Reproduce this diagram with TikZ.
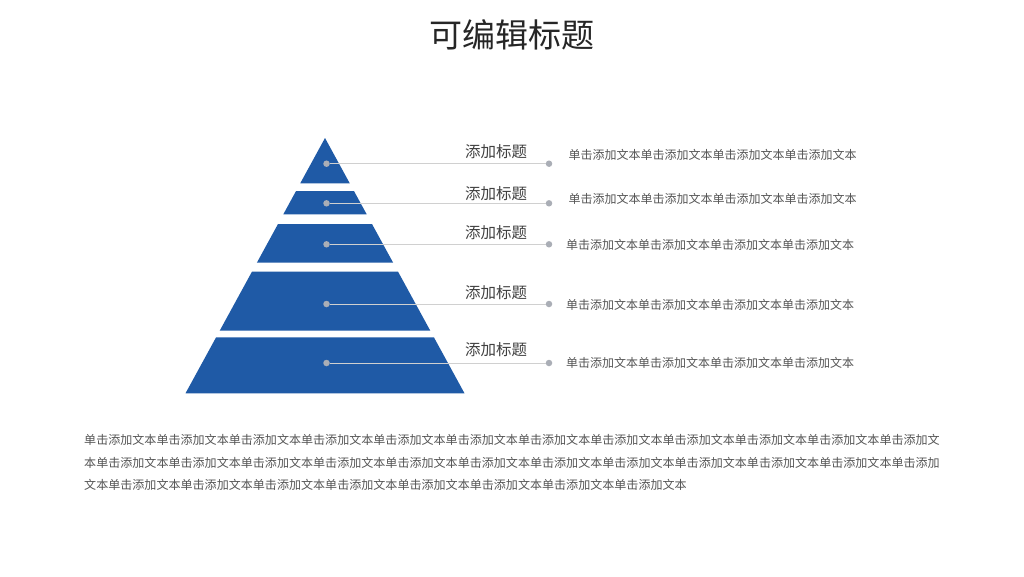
\documentclass[tikz,border=0pt]{standalone}
\usepackage{fontspec}
\setmainfont{Noto Sans CJK SC}
\usetikzlibrary{positioning}
\usepackage{xcolor}
\definecolor{pyrblue}{RGB}{31,90,166}
\definecolor{dotgray}{RGB}{170,174,182}
\definecolor{linegray}{RGB}{208,208,208}
\definecolor{textgray}{RGB}{85,85,85}
\definecolor{labelgray}{RGB}{64,64,64}
\definecolor{titlegray}{RGB}{38,38,38}
\tikzset{tierdot/.style={circle, fill=dotgray, minimum size=6.5pt, inner sep=0pt},tierlabel/.style={font=\fontsize{15.5}{18}\selectfont, text=labelgray, inner sep=0pt}}
\tikzset{tiertext/.style={font=\fontsize{12}{14}\selectfont, text=textgray, inner sep=0pt, anchor=west},bodytext/.style={font=\fontsize{12.05}{22.5}\selectfont, text=textgray, inner sep=0pt, anchor=north west, align=left}}

\begin{document}
\begin{tikzpicture}[
        x=1pt, y=-1pt,
        titletext/.style={font=\fontsize{33}{38}\selectfont, text=titlegray, inner sep=0pt},
    ]
        \useasboundingbox (0, 0) rectangle (1024, 576);
        \fill[white] (0, 0) rectangle (1024, 576);
        % Title
        \node[titletext] (title) at (512, 35) {可编辑标题};
        % Pyramid
        \foreach \t/\b in {138/183.3, 191/214.3, 224/262.7, 271.7/330.7, 337.3/393.3} {
            \fill[pyrblue] ({325-0.5464*(\t-138)}, \t) -- ({325+0.5464*(\t-138)}, \t) -- ({325+0.5464*(\b-138)}, \b) -- ({325-0.5464*(\b-138)}, \b) -- cycle;
        }
        % Leaders and texts
        \foreach \i/\ly/\dy/\gap/\off in {
            1/151.7/163.7/16pt/9pt,
            2/193.3/203.3/16pt/4.3pt,
            3/232.7/244.3/13.5pt/-0.7pt,
            4/292.7/304/13.5pt/-1pt,
            5/350/363/13.5pt/0pt} {
            \node[tierdot] (ld\i) at (326.5, \dy) {};
            \node[tierdot] (rd\i) at (549, \dy) {};
            \draw[linegray, line width=0.9pt] (ld\i) -- (rd\i);
            \node[tierlabel] (lb\i) at (496, \ly) {添加标题};
            \node[tiertext, right=\gap of rd\i, yshift=\off] (tx\i) {单击添加文本单击添加文本单击添加文本单击添加文本};
        }
        % Body
        \node[bodytext] (body) at (84, 434.5) {单击添加文本单击添加文本单击添加文本单击添加文本单击添加文本单击添加文本单击添加文本单击添加文本单击添加文本单击添加文本单击添加文本单击添加文\\本单击添加文本单击添加文本单击添加文本单击添加文本单击添加文本单击添加文本单击添加文本单击添加文本单击添加文本单击添加文本单击添加文本单击添加\\文本单击添加文本单击添加文本单击添加文本单击添加文本单击添加文本单击添加文本单击添加文本单击添加文本};
    \end{tikzpicture}
\end{document}
